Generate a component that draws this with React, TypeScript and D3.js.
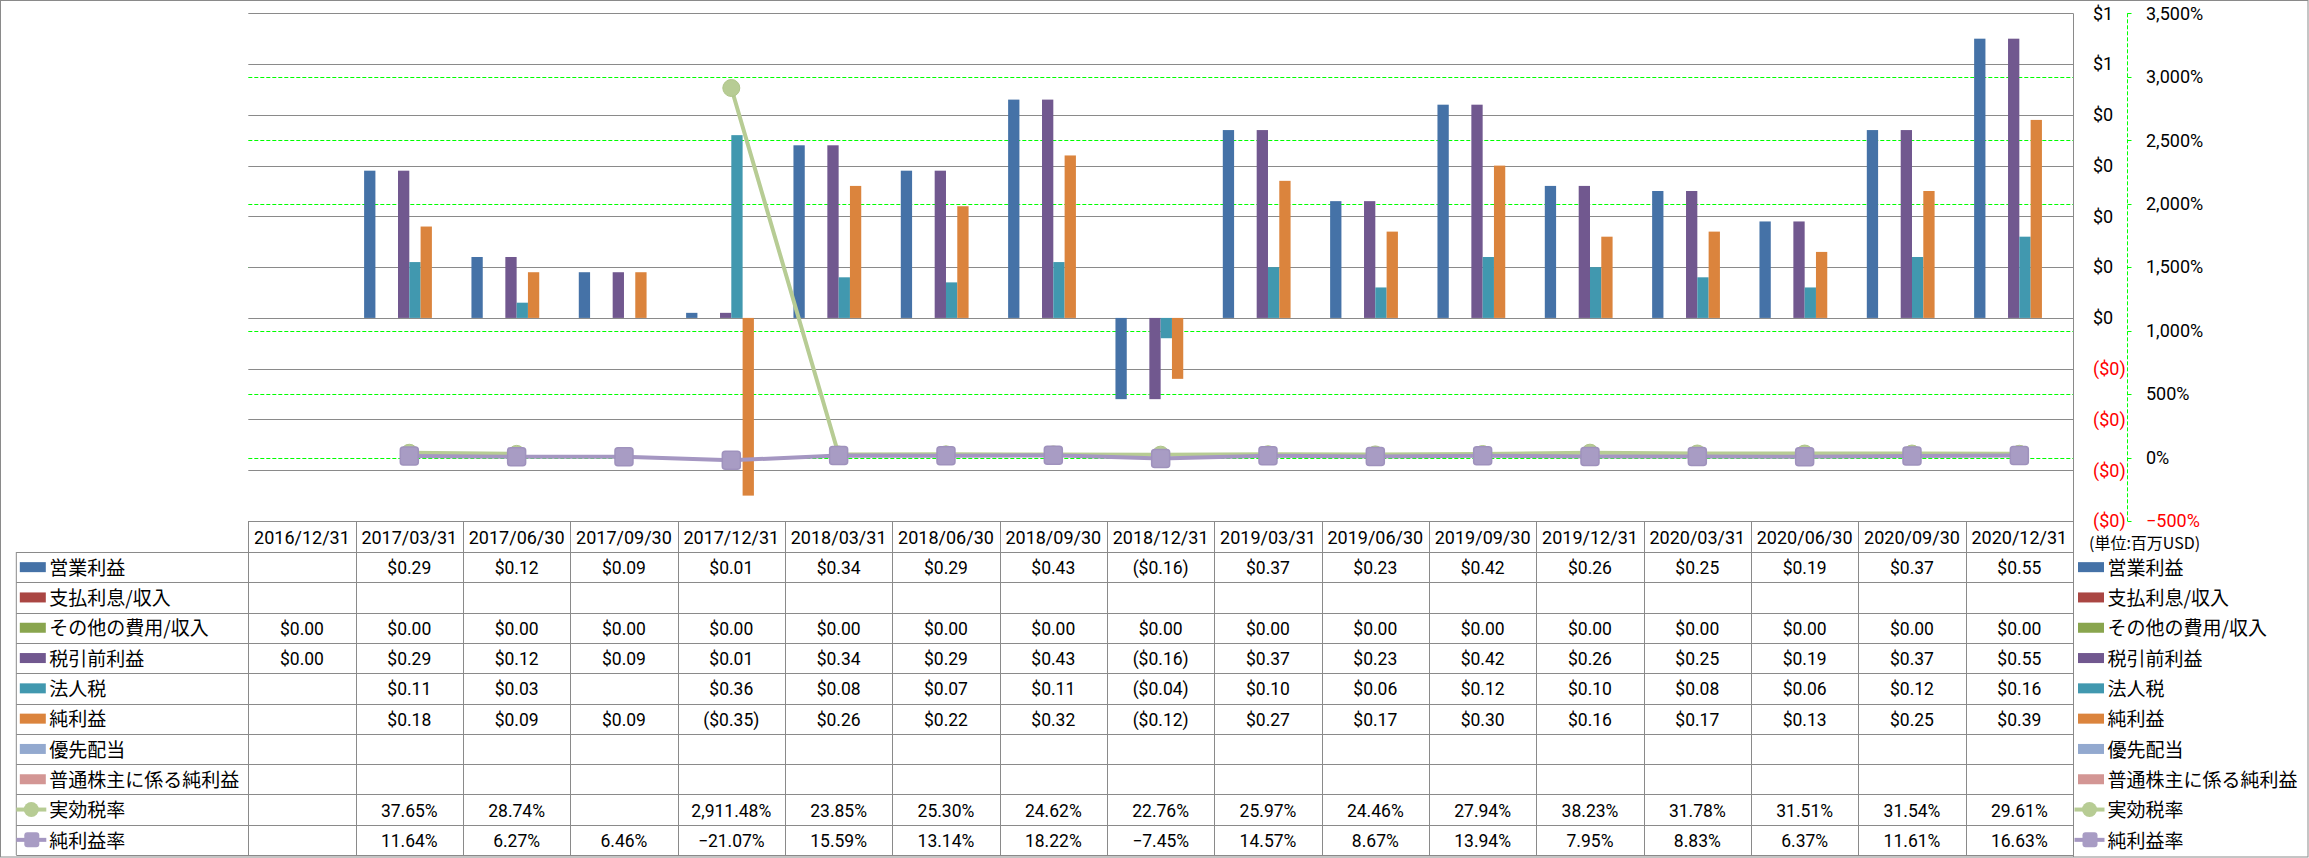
import { useEffect, useRef } from 'react'
import * as d3 from 'd3'

const W = 2309
const H = 858

const categories = [
  '2016/12/31', '2017/03/31', '2017/06/30', '2017/09/30', '2017/12/31', '2018/03/31',
  '2018/06/30', '2018/09/30', '2018/12/31', '2019/03/31', '2019/06/30', '2019/09/30',
  '2019/12/31', '2020/03/31', '2020/06/30', '2020/09/30', '2020/12/31',
]

const barNames = ['営業利益', '支払利息/収入', 'その他の費用/収入', '税引前利益', '法人税', '純利益', '優先配当', '普通株主に係る純利益']
const barColors = ['#4572A7', '#AA4643', '#89A54E', '#71588F', '#4198AF', '#DB843D', '#93A9CF', '#D39694']
const lineNames = ['実効税率', '純利益率']
const lineColors = ['#B7CC94', '#A597C2']

type V = number | null

const operatingIncome: V[] = [null, 0.29, 0.12, 0.09, 0.01, 0.34, 0.29, 0.43, -0.16, 0.37, 0.23, 0.42, 0.26, 0.25, 0.19, 0.37, 0.55]
const interest: V[] = [null, null, null, null, null, null, null, null, null, null, null, null, null, null, null, null, null]
const otherExpense: V[] = [0, 0, 0, 0, 0, 0, 0, 0, 0, 0, 0, 0, 0, 0, 0, 0, 0]
const preTaxIncome: V[] = [0, 0.29, 0.12, 0.09, 0.01, 0.34, 0.29, 0.43, -0.16, 0.37, 0.23, 0.42, 0.26, 0.25, 0.19, 0.37, 0.55]
const incomeTax: V[] = [null, 0.11, 0.03, null, 0.36, 0.08, 0.07, 0.11, -0.04, 0.10, 0.06, 0.12, 0.10, 0.08, 0.06, 0.12, 0.16]
const netIncome: V[] = [null, 0.18, 0.09, 0.09, -0.35, 0.26, 0.22, 0.32, -0.12, 0.27, 0.17, 0.30, 0.16, 0.17, 0.13, 0.25, 0.39]
const preferredDiv: V[] = [null, null, null, null, null, null, null, null, null, null, null, null, null, null, null, null, null]
const commonNetIncome: V[] = [null, null, null, null, null, null, null, null, null, null, null, null, null, null, null, null, null]

const effectiveTaxRate: V[] = [null, 37.65, 28.74, null, 2911.48, 23.85, 25.30, 24.62, 22.76, 25.97, 24.46, 27.94, 38.23, 31.78, 31.51, 31.54, 29.61]
const netMargin: V[] = [null, 11.64, 6.27, 6.46, -21.07, 15.59, 13.14, 18.22, -7.45, 14.57, 8.67, 13.94, 7.95, 8.83, 6.37, 11.61, 16.63]

const barSeries = [operatingIncome, interest, otherExpense, preTaxIncome, incomeTax, netIncome, preferredDiv, commonNetIncome]
const lineSeries = [effectiveTaxRate, netMargin]

const NUM_FONT = 'Roboto, "Liberation Sans", sans-serif'
const JP_FONT = '"Noto Sans CJK JP", sans-serif'

const fmtUsd = (v: V) => (v == null ? '' : v < 0 ? `($${Math.abs(v).toFixed(2)})` : `$${v.toFixed(2)}`)
const fmtPct = (v: V) => (v == null ? '' : d3.format(',.2f')(v) + '%')

export default function App() {
  const svgRef = useRef<SVGSVGElement>(null)

  useEffect(() => {
    document.body.style.margin = '0'
    const svg = svgRef.current
    if (!svg) return
    d3.select(svg).selectAll('*').remove()
    const root = d3.select(svg)

    const plotL = 248.3
    const plotR = 2073
    const plotT = 13.3
    const plotB = 521
    const rowTop = 552
    const rowH = 30.3
    const tableL = 16.3
    const grid = '#8a8a8a'

    const x = d3.scaleBand<string>().domain(categories).range([plotL, plotR])
    const bw = x.bandwidth()
    const barW = bw / 9.5
    const xs = d3.scaleBand<string>().domain(barNames).range([0.75 * barW, bw - 0.75 * barW])
    const yL = d3.scaleLinear().domain([-0.4, 0.6]).range([plotB, plotT])
    const yR = d3.scaleLinear().domain([-500, 3500]).range([plotB, plotT])

    // outer frame
    root.append('rect').attr('x', 0.5).attr('y', 0.5).attr('width', W - 1.5).attr('height', H - 1.5)
      .attr('fill', '#fff').attr('stroke', grid)

    // green dashed gridlines (% axis)
    const rightTicks = yR.ticks(8)
    root.append('g').selectAll('line').data(rightTicks.filter(t => t > -500 && t < 3500)).join('line')
      .attr('x1', plotL).attr('x2', plotR)
      .attr('y1', d => Math.round(yR(d)) + 0.5).attr('y2', d => Math.round(yR(d)) + 0.5)
      .attr('stroke', '#00ff00').attr('stroke-width', 1).attr('stroke-dasharray', '4,2')

    // gray gridlines ($ axis)
    const leftTicks = yL.ticks(10)
    root.append('g').selectAll('line').data(leftTicks.filter(t => t > -0.4)).join('line')
      .attr('x1', plotL).attr('x2', plotR)
      .attr('y1', d => Math.round(yL(d)) + 0.5).attr('y2', d => Math.round(yL(d)) + 0.5)
      .attr('stroke', grid).attr('stroke-width', 1)

    // bars
    barSeries.forEach((vals, si) => {
      root.append('g').selectAll('rect')
        .data(vals.map((v, i) => ({ v, c: categories[i] })).filter(d => d.v != null && d.v !== 0))
        .join('rect')
        .attr('x', d => (x(d.c) as number) + (xs(barNames[si]) as number))
        .attr('width', xs.bandwidth())
        .attr('y', d => yL(Math.max(0, d.v as number)))
        .attr('height', d => Math.abs(yL(d.v as number) - yL(0)))
        .attr('fill', barColors[si])
    })

    // lines with markers
    lineSeries.forEach((vals, li) => {
      const pts = vals.map((v, i) => ({ v, c: categories[i] }))
      const line = d3.line<{ v: V; c: string }>()
        .defined(d => d.v != null)
        .x(d => (x(d.c) as number) + bw / 2)
        .y(d => yR(d.v as number))
      root.append('path').datum(pts).attr('fill', 'none')
        .attr('stroke', lineColors[li]).attr('stroke-width', 4).attr('stroke-linejoin', 'round')
        .attr('d', line)
      const m = root.append('g').selectAll('g').data(pts.filter(d => d.v != null)).join('g')
        .attr('transform', d => `translate(${(x(d.c) as number) + bw / 2},${yR(d.v as number)})`)
      if (li === 0) {
        m.append('circle').attr('r', 8.5).attr('fill', lineColors[0]).attr('stroke', '#AFC58A').attr('stroke-width', 1)
      } else {
        m.append('rect').attr('x', -9).attr('y', -9).attr('width', 18).attr('height', 18).attr('rx', 3)
          .attr('fill', '#A89CC4').attr('stroke', '#9F92BD').attr('stroke-width', 1.5)
      }
    })

    // plot right border
    root.append('line').attr('x1', plotR + 0.5).attr('x2', plotR + 0.5).attr('y1', plotT).attr('y2', H - 1)
      .attr('stroke', grid)

    // $ axis labels
    root.append('g').selectAll('text').data(leftTicks).join('text')
      .attr('x', 2093).attr('y', d => yL(d)).attr('dy', '0.35em')
      .attr('font-family', NUM_FONT).attr('font-size', 18)
      .attr('fill', d => (d < -1e-9 ? '#ff0000' : '#000'))
      .text(d => (d < -1e-9 ? `($${Math.round(Math.abs(d))})` : `$${Math.round(d + 1e-9)}`))

    // % axis (green dashed line)
    const axX = 2127.5
    root.append('line').attr('x1', axX).attr('x2', axX).attr('y1', plotT).attr('y2', plotB)
      .attr('stroke', '#00ff00').attr('stroke-dasharray', '4,2')
    root.append('g').selectAll('line').data(rightTicks).join('line')
      .attr('x1', axX).attr('x2', axX + 4)
      .attr('y1', d => Math.round(yR(d)) + 0.5).attr('y2', d => Math.round(yR(d)) + 0.5)
      .attr('stroke', '#00ff00')
    root.append('g').selectAll('text').data(rightTicks).join('text')
      .attr('x', 2146).attr('y', d => yR(d)).attr('dy', '0.35em')
      .attr('font-family', NUM_FONT).attr('font-size', 18)
      .attr('fill', d => (d < 0 ? '#ff0000' : '#000'))
      .text(d => d3.format(',')(d) + '%')

    root.append('text').attr('x', 2089).attr('y', 543).attr('dy', '0.35em')
      .attr('font-family', JP_FONT).attr('font-size', 16).text('(単位:百万USD)')

    // data table
    const rowNames = [...barNames, ...lineNames]
    const rowVals = [...barSeries, ...lineSeries]
    const nRows = rowNames.length
    const tBottom = rowTop + nRows * rowH
    const tg = root.append('g')
    // horizontal lines
    tg.append('line').attr('x1', plotL).attr('x2', plotR).attr('y1', plotB + 0.5).attr('y2', plotB + 0.5).attr('stroke', grid)
    d3.range(nRows + 1).forEach(i => {
      const yy = Math.round(rowTop + i * rowH) + 0.5
      tg.append('line').attr('x1', tableL).attr('x2', plotR).attr('y1', yy).attr('y2', yy).attr('stroke', grid)
    })
    // vertical lines
    tg.append('line').attr('x1', tableL).attr('x2', tableL).attr('y1', rowTop).attr('y2', tBottom).attr('stroke', grid)
    categories.forEach(c => {
      const xx = Math.round(x(c) as number) + 0.5
      tg.append('line').attr('x1', xx).attr('x2', xx).attr('y1', plotB).attr('y2', tBottom).attr('stroke', grid)
    })
    // header
    tg.append('g').selectAll('text').data(categories).join('text')
      .attr('x', d => (x(d) as number) + bw / 2).attr('y', (plotB + rowTop) / 2 + 1).attr('dy', '0.35em')
      .attr('text-anchor', 'middle').attr('font-family', NUM_FONT).attr('font-size', 18)
      .text(d => d)
    // cells
    rowVals.forEach((vals, ri) => {
      const cy = rowTop + ri * rowH + rowH / 2 + 1
      const fmt = ri < barNames.length ? fmtUsd : fmtPct
      tg.append('g').selectAll('text').data(vals.map((v, i) => ({ v, c: categories[i] }))).join('text')
        .attr('x', d => (x(d.c) as number) + bw / 2).attr('y', cy).attr('dy', '0.35em')
        .attr('text-anchor', 'middle').attr('font-family', NUM_FONT).attr('font-size', 17.5)
        .text(d => fmt(d.v))
    })

    // legend keys (left in table and right side)
    const drawKey = (g: d3.Selection<SVGGElement, unknown, null, undefined>, ri: number, kx: number) => {
      const cy = rowTop + ri * rowH + rowH / 2
      if (ri < barNames.length) {
        g.append('rect').attr('x', kx + 3.5).attr('y', cy - 5).attr('width', 26).attr('height', 10).attr('fill', barColors[ri])
      } else {
        const li = ri - barNames.length
        g.append('line').attr('x1', kx).attr('x2', kx + 30).attr('y1', cy).attr('y2', cy)
          .attr('stroke', lineColors[li]).attr('stroke-width', 4)
        if (li === 0) g.append('circle').attr('cx', kx + 15).attr('cy', cy).attr('r', 7.5).attr('fill', lineColors[0])
        else g.append('rect').attr('x', kx + 8).attr('y', cy - 7.5).attr('width', 15).attr('height', 15).attr('rx', 3).attr('fill', '#A89CC4')
      }
      g.append('text').attr('x', kx + 33).attr('y', cy + 1).attr('dy', '0.35em')
        .attr('font-family', JP_FONT).attr('font-size', 19).text(rowNames[ri])
    }
    const lg = root.append('g')
    d3.range(nRows).forEach(ri => {
      drawKey(lg, ri, tableL)
      drawKey(lg, ri, 2074.5)
    })
  }, [])

  return <svg ref={svgRef} width={W} height={H} style={{ display: 'block' }} />
}
